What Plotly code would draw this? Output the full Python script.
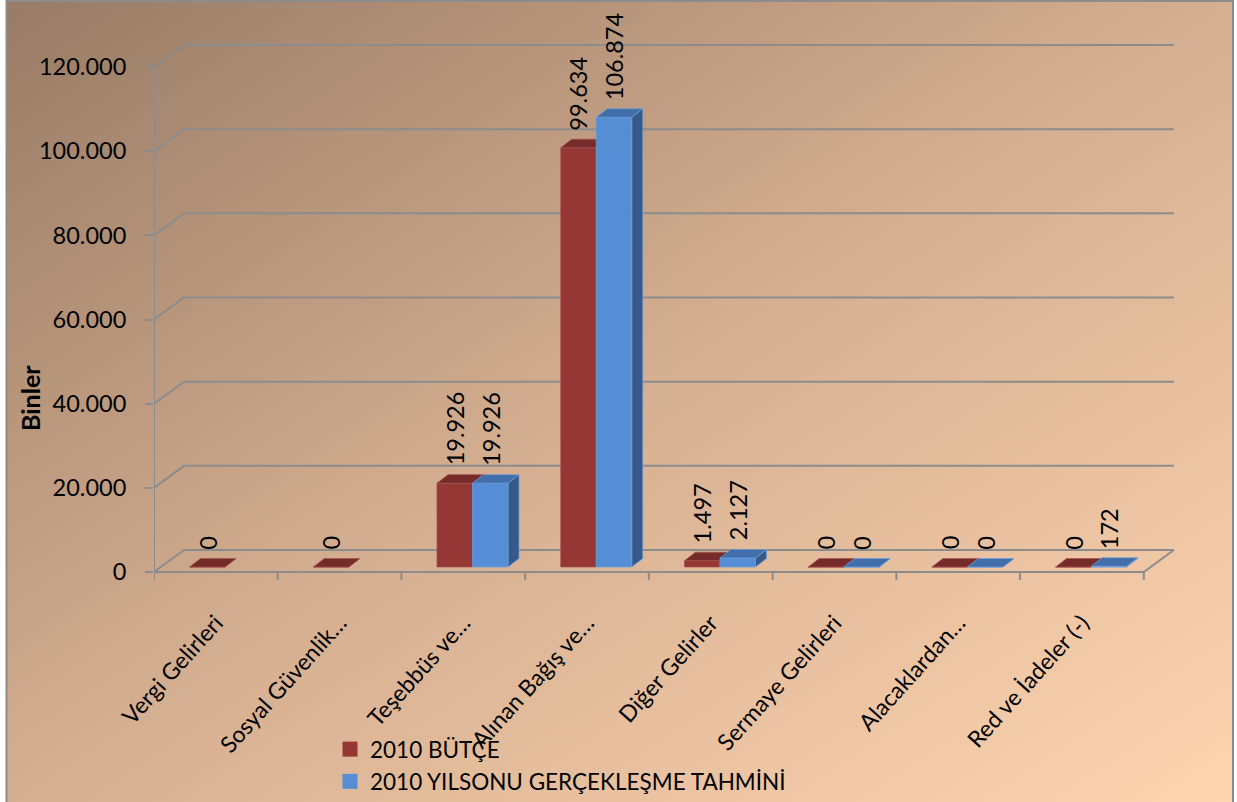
import base64
import plotly.graph_objects as go

# ---------------- data ----------------
categories = ["Vergi Gelirleri", "Sosyal Güvenlik…", "Teşebbüs ve…", "Alınan Bağış ve…",
              "Diğer Gelirler", "Sermaye Gelirleri", "Alacaklardan…", "Red ve İadeler (-)"]
series_names = ["2010 BÜTÇE", "2010 YILSONU GERÇEKLEŞME TAHMİNİ"]
butce = [0, 0, 19926, 99634, 1497, 0, 0, 0]
tahmin = [None, None, 19926, 106874, 2127, 0, 0, 172]
y_tick_vals = [0, 20000, 40000, 60000, 80000, 100000, 120000]
y_tick_text = ["0", "20.000", "40.000", "60.000", "80.000", "100.000", "120.000"]
y_title = "Binler"

# ---------------- geometry / style ----------------
W, H = 1237, 802
L, R, T, B = 154, 1176, 20, 590
XR = [-0.5, 7.76]
YR = [-4277, 131168]
DX_BACK, DY_BACK = 0.2424, 5230      # depth of the 3D box (axis units)
BAR_LEFT, BAR_W = 0.287, 0.287      # first bar offset from category left, bar width
BASE = 1188                          # bar plane offset
DDX, DDY = 0.089, 2020               # bar depth
GRID = "#8c8c8c"
FONT = "Lato"
FS = 23.5
COLORS = [
    dict(front="#953735", top="#752b2a", side="#6d2725", line="#a85250"),
    dict(front="#558ed5", top="#426eaa", side="#36598a", line="#6f9fdc"),
]


def px_x(p):
    return (p - L) / (R - L)


def px_y(p):
    return (B - p) / (B - T)


fig = go.Figure()

# ---------------- walls & floor ----------------
gx, gy = [], []
for v in y_tick_vals:
    gx += [XR[0], XR[0] + DX_BACK, 7.5 + DX_BACK, None]
    gy += [v, v + DY_BACK, v + DY_BACK, None]
fig.add_trace(go.Scatter(x=gx, y=gy, mode="lines", line=dict(color=GRID, width=2),
                         hoverinfo="skip", showlegend=False))
ax_x = [XR[0], XR[0], None, XR[0], 7.5, 7.5 + DX_BACK, None]
ax_y = [y_tick_vals[-1], 0, None, 0, 0, DY_BACK, None]
for b in range(9):
    ax_x += [b - 0.5, b - 0.5, None]
    ax_y += [0, -1900, None]
fig.add_trace(go.Scatter(x=ax_x, y=ax_y, mode="lines", line=dict(color=GRID, width=2),
                         hoverinfo="skip", showlegend=False))

# ---------------- 3D bars ----------------
annotations = []
for s, vals in enumerate([butce, tahmin]):
    c = COLORS[s]
    fx, fy, tx, ty, sx, sy = [], [], [], [], [], []
    for i, v in enumerate(vals):
        if v is None:
            continue
        x0 = i - 0.5 + BAR_LEFT + s * BAR_W
        x1 = x0 + BAR_W
        y0 = BASE
        y1 = BASE + v
        sx += [x1, x1, x1 + DDX, x1 + DDX, x1, None]
        sy += [y0, y1, y1 + DDY, y0 + DDY, y0, None]
        fx += [x0, x1, x1, x0, x0, None]
        fy += [y0, y0, y1, y1, y0, None]
        tx += [x0, x1, x1 + DDX, x0 + DDX, x0, None]
        ty += [y1, y1, y1 + DDY, y1 + DDY, y1, None]
        annotations.append(dict(
            x=(x0 + x1) / 2, y=y1 + DDY, xref="x", yref="y",
            text=f"{v:,}".replace(",", "."), showarrow=False, textangle=-90,
            xanchor="center", yanchor="bottom", yshift=7,
            font=dict(family=FONT, size=FS, color="#000000")))
    for xs, ys, col in [(sx, sy, c["side"]), (fx, fy, c["front"]), (tx, ty, c["top"])]:
        fig.add_trace(go.Scatter(x=xs, y=ys, mode="lines", fill="toself", fillcolor=col,
                                 line=dict(color=c["line"], width=0.7),
                                 hoverinfo="skip", showlegend=False))

# legend entries
for s, name in enumerate(series_names):
    fig.add_trace(go.Scatter(x=[None], y=[None], mode="markers", name=name,
                             marker=dict(symbol="square", size=15, color=COLORS[s]["front"])))

# y-axis title
annotations.append(dict(x=px_x(30), y=px_y(398), xref="paper", yref="paper", text=f"<b>{y_title}</b>",
                        showarrow=False, textangle=-90, xanchor="center", yanchor="middle",
                        font=dict(family=FONT, size=25, color="#000000")))

# ---------------- background gradient ----------------
svg = ('<svg xmlns="http://www.w3.org/2000/svg" width="400" height="300" preserveAspectRatio="none">'
       '<defs><linearGradient id="g" x1="0" y1="0" x2="1" y2="1">'
       '<stop offset="0" stop-color="#987b65"/><stop offset="0.5" stop-color="#d5af91"/>'
       '<stop offset="1" stop-color="#fed5b1"/></linearGradient></defs>'
       '<rect width="400" height="300" fill="url(#g)"/></svg>')
src = "data:image/svg+xml;base64," + base64.b64encode(svg.encode()).decode()

fig.update_layout(
    width=W, height=H, autosize=False,
    margin=dict(l=L, r=W - R, t=T, b=H - B, pad=0, autoexpand=False),
    paper_bgcolor="#ffffff", plot_bgcolor="rgba(0,0,0,0)",
    font=dict(family=FONT, size=FS, color="#000000"),
    images=[dict(source=src, xref="paper", yref="paper", x=px_x(7), y=px_y(1),
                 sizex=(1233 - 7) / (R - L), sizey=(802 - 1) / (B - T),
                 xanchor="left", yanchor="top", sizing="stretch", layer="below")],
    shapes=[dict(type="rect", xref="paper", yref="paper", x0=px_x(6.5), x1=px_x(1233),
                 y0=px_y(806), y1=px_y(1), line=dict(color="#8c8c8c", width=2), layer="below")],
    annotations=annotations,
    showlegend=True,
    legend=dict(x=px_x(330), y=px_y(728), xanchor="left", yanchor="top",
                bgcolor="rgba(0,0,0,0)", font=dict(family=FONT, size=22.5), itemwidth=30,
                tracegroupgap=0),
    xaxis=dict(range=XR, tickvals=list(range(len(categories))), ticktext=categories,
               tickangle=-48, ticks="", showgrid=False, zeroline=False, showline=False,
               ticklabelstandoff=14,
               tickfont=dict(family=FONT, size=23, color="#000000"), fixedrange=True),
    yaxis=dict(range=YR, tickvals=y_tick_vals, ticktext=y_tick_text, ticks="outside",
               ticklen=8, tickwidth=2, tickcolor=GRID, showgrid=False, zeroline=False,
               showline=False, ticklabelstandoff=14,
               tickfont=dict(family=FONT, size=FS, color="#000000"), fixedrange=True),
)

fig.write_html("out.html", config={"displayModeBar": False},
               post_script="document.body.style.margin='0';document.body.style.overflow='hidden';")
